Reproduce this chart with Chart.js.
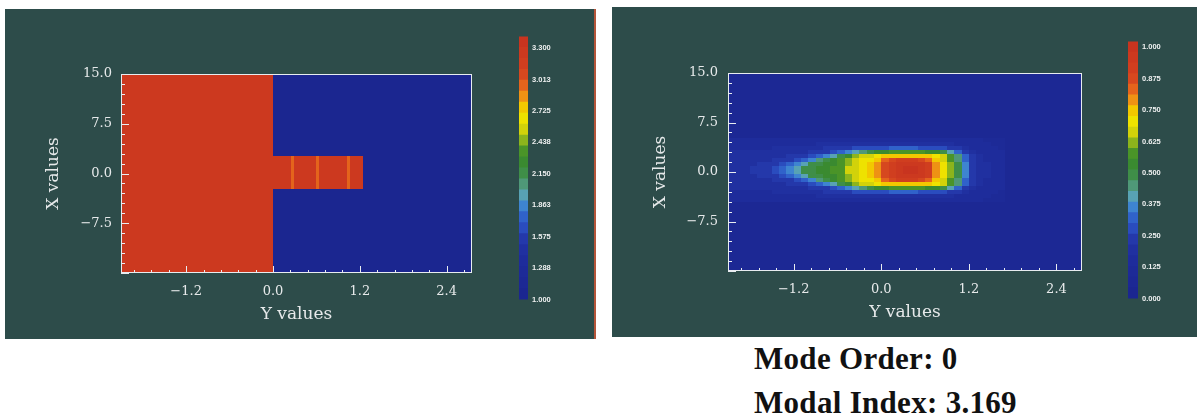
<!DOCTYPE html>
<html>
<head>
<meta charset="utf-8">
<script src="https://cdn.jsdelivr.net/npm/chart.js@4.4.1/dist/chart.umd.min.js"></script>
<style>
  html, body { margin: 0; padding: 0; background: #ffffff; }
  body { width: 1197px; height: 414px; position: relative; overflow: hidden; }
  .panel { position: absolute; background: #2d4c4a; }
  #panelIndex { left: 5px; top: 9px; width: 589px; height: 330px; border-right: 2px solid #b4553a; }
  #panelMode { left: 612px; top: 7px; width: 585px; height: 330px; }
  .panel canvas { position: absolute; }
  .caption { position: absolute; left: 754px; font: bold 31px "Liberation Serif", "Times New Roman", serif;
             line-height: 31px; color: #111; white-space: nowrap; letter-spacing: 0.3px; }
</style>
</head>
<body>
<div class="panel" id="panelIndex">
  <canvas id="indexPlot" width="589" height="330" style="left:0;top:0"></canvas>
  <canvas id="indexBar" width="45" height="280" style="left:514px;top:19px"></canvas>
</div>
<div class="panel" id="panelMode">
  <canvas id="modePlot" width="585" height="330" style="left:0;top:0"></canvas>
  <canvas id="modeBar" width="52" height="274" style="left:516px;top:26px"></canvas>
</div>
<div class="caption" style="top:343px">Mode Order: 0</div>
<div class="caption" style="top:387px">Modal Index: 3.169</div>

<script>
// ---------- axes ----------
const xRange = [-2.1, 2.75];
const yRange = [-15, 15];
const xAxisTicks = [-1.2, 0.0, 1.2, 2.4];
const yAxisTicks = [-7.5, 0.0, 7.5, 15.0];

// ---------- refractive index profile: [x0, x1, y0, y1, n] ----------
const indexBlocks = [
  [-2.1, 0.0, -15, 15, 3.3],
  [0.0, 2.75, -15, 15, 1.0],
  [0.0, 1.24, -2.4, 2.6, 3.3],
  [0.25, 0.29, -2.4, 2.6, 2.98],
  [0.60, 0.64, -2.4, 2.6, 2.98],
  [1.02, 1.06, -2.4, 2.6, 2.98]
];
const indexRange = [1.0, 3.407];
const indexTickValues = [1.0, 1.2875, 1.575, 1.8625, 2.15, 2.4375, 2.725, 3.0125, 3.3];
const indexTickLabels = ['1.000', '1.288', '1.575', '1.863', '2.150', '2.438', '2.725', '3.013', '3.300'];

// ---------- normalised mode field ----------
const modeRange = [0.0, 1.023];
const modeTickValues = [0, 0.125, 0.25, 0.375, 0.5, 0.625, 0.75, 0.875, 1.0];
const modeTickLabels = ['0.000', '0.125', '0.250', '0.375', '0.500', '0.625', '0.750', '0.875', '1.000'];
const modeBackground = 0.06;
const modeColX = [-2.05, -1.95, -1.85, -1.75, -1.65, -1.55, -1.45, -1.35, -1.25, -1.15,
                  -1.05, -0.95, -0.85, -0.75, -0.65, -0.55, -0.45, -0.35, -0.25, -0.15,
                  -0.05, 0.05, 0.15, 0.25, 0.35, 0.45, 0.55, 0.65, 0.75, 0.85,
                  0.95, 1.05, 1.15, 1.25, 1.35, 1.45, 1.55, 1.65];
const modeRowY = [4.8, 4.2, 3.6, 3.0, 2.4, 1.8, 1.2, 0.6, 0.0, -0.6, -1.2, -1.8, -2.4, -3.0, -3.6, -4.2];
const modeCellW = 0.1;
const modeCellH = 0.6;

// field rows, by distance from the guide axis
const fieldD45 = [0.14,0.14,0.14,0.14,0.14,0.14,0.14,0.15,0.15,0.15,0.15,0.15,0.16,0.16,0.16,0.16,0.16,0.17,0.17,
                  0.17,0.17,0.17,0.17,0.17,0.17,0.17,0.17,0.17,0.16,0.16,0.16,0.15,0.15,0.14,0.13,0.12,0.11,0.10];
const fieldD39 = [0.16,0.16,0.16,0.16,0.16,0.16,0.16,0.17,0.17,0.17,0.17,0.17,0.18,0.18,0.18,0.19,0.19,0.19,0.20,
                  0.20,0.21,0.21,0.21,0.21,0.21,0.21,0.21,0.20,0.20,0.19,0.18,0.17,0.16,0.15,0.14,0.13,0.12,0.11];
const fieldD33 = [0.17,0.17,0.17,0.17,0.17,0.17,0.18,0.18,0.18,0.19,0.19,0.20,0.21,0.22,0.23,0.24,0.25,0.26,0.27,
                  0.28,0.29,0.29,0.30,0.30,0.30,0.30,0.29,0.28,0.27,0.26,0.24,0.22,0.19,0.17,0.15,0.14,0.13,0.12];
const fieldD27 = [0.18,0.18,0.18,0.18,0.18,0.18,0.19,0.19,0.20,0.20,0.21,0.22,0.23,0.25,0.28,0.31,0.35,0.40,0.45,
                  0.49,0.52,0.55,0.57,0.58,0.58,0.58,0.57,0.55,0.52,0.47,0.41,0.34,0.25,0.19,0.16,0.15,0.14,0.13];
const fieldD21 = [0.19,0.19,0.19,0.19,0.19,0.20,0.20,0.21,0.22,0.23,0.25,0.28,0.31,0.35,0.41,0.47,0.54,0.60,0.65,
                  0.68,0.71,0.73,0.75,0.76,0.76,0.76,0.75,0.73,0.70,0.65,0.56,0.44,0.31,0.22,0.18,0.16,0.15,0.14];
const fieldD15 = [0.20,0.20,0.20,0.20,0.20,0.21,0.22,0.23,0.25,0.28,0.31,0.36,0.43,0.48,0.52,0.56,0.60,0.65,0.69,
                  0.72,0.76,0.82,0.87,0.90,0.92,0.92,0.89,0.84,0.76,0.68,0.58,0.46,0.33,0.23,0.19,0.17,0.15,0.14];
const fieldD09 = [0.20,0.20,0.21,0.21,0.22,0.23,0.25,0.28,0.32,0.36,0.42,0.47,0.50,0.53,0.55,0.58,0.62,0.66,0.70,
                  0.73,0.79,0.87,0.92,0.96,0.98,0.98,0.96,0.91,0.79,0.71,0.60,0.49,0.35,0.24,0.20,0.18,0.16,0.14];
const fieldD03 = [0.21,0.21,0.21,0.22,0.23,0.24,0.27,0.31,0.36,0.41,0.47,0.50,0.52,0.54,0.56,0.59,0.64,0.67,0.70,
                  0.73,0.80,0.88,0.93,0.97,0.99,1.00,0.98,0.93,0.80,0.72,0.60,0.50,0.36,0.25,0.20,0.18,0.16,0.14];
const modeField = [fieldD45, fieldD39, fieldD33, fieldD27, fieldD21, fieldD15, fieldD09, fieldD03,
                   fieldD03, fieldD09, fieldD15, fieldD21, fieldD27, fieldD33, fieldD39, fieldD45];

// ---------- colour levels (low to high) ----------
const levelColors = [
  '#1b2690', '#1c2894', '#1d2a97', '#1e2c9b', '#2030a0', '#2438aa', '#2a4cbe', '#3062ca',
  '#3e84d0', '#58a2b4', '#4f9878', '#3f8e48', '#3a8a30', '#4a9428', '#8cb41c', '#d2d20a',
  '#eee200', '#f2c800', '#ee9214', '#e4641c', '#d6481f', '#d03e1f', '#cc391f', '#c8341f'
];

function levelColor(v, range) {
  const t = (v - range[0]) / (range[1] - range[0]);
  const i = Math.max(0, Math.min(levelColors.length - 1, Math.floor(t * levelColors.length)));
  return levelColors[i];
}

// ---------- cell sets ----------
const indexCells = indexBlocks.map(b => ({
  x: (b[0] + b[1]) / 2, y: (b[2] + b[3]) / 2, w: b[1] - b[0], h: b[3] - b[2], v: b[4]
}));

const modeCells = [{
  x: (xRange[0] + xRange[1]) / 2, y: 0, w: xRange[1] - xRange[0], h: yRange[1] - yRange[0], v: modeBackground
}];
modeRowY.forEach((yc, r) => {
  modeColX.forEach((xc, c) => {
    modeCells.push({ x: xc, y: yc, w: modeCellW, h: modeCellH, v: modeField[r][c] });
  });
});

// ---------- plugins ----------
const cellPlugin = {
  id: 'cellGrid',
  beforeDatasetsDraw(chart, args, opts) {
    const { ctx, chartArea: a, scales: { x, y } } = chart;
    const range = opts.range;
    ctx.save();
    ctx.beginPath();
    ctx.rect(a.left, a.top, a.width, a.height);
    ctx.clip();
    for (const c of chart.data.datasets[0].data) {
      const px0 = Math.round(x.getPixelForValue(c.x - c.w / 2));
      const px1 = Math.round(x.getPixelForValue(c.x + c.w / 2));
      const py0 = Math.round(y.getPixelForValue(c.y + c.h / 2));
      const py1 = Math.round(y.getPixelForValue(c.y - c.h / 2));
      ctx.fillStyle = levelColor(c.v, range);
      ctx.fillRect(px0, py0, px1 - px0, py1 - py0);
    }
    ctx.restore();
  }
};

const framePlugin = {
  id: 'plotFrame',
  afterDatasetsDraw(chart) {
    const { ctx, chartArea: a, scales: { x, y } } = chart;
    ctx.save();
    ctx.strokeStyle = '#e8ecf0';
    ctx.lineWidth = 1;
    ctx.strokeRect(a.left + 0.5, a.top + 0.5, a.width - 1, a.height - 1);
    ctx.beginPath();
    for (let k = Math.ceil(x.min / 0.24); k * 0.24 <= x.max; k++) {
      const major = k % 5 === 0;
      const px = Math.round(x.getPixelForValue(k * 0.24)) + 0.5;
      ctx.moveTo(px, a.bottom);
      ctx.lineTo(px, a.bottom - (major ? 7 : 3));
    }
    for (let k = -10; k <= 10; k++) {
      const major = k % 5 === 0;
      const py = Math.round(y.getPixelForValue(k * 1.5)) + 0.5;
      ctx.moveTo(a.left, py);
      ctx.lineTo(a.left + (major ? 8 : 4), py);
    }
    ctx.stroke();
    ctx.restore();
  }
};

const labelColor = '#e6e9ea';
const serif = '"DejaVu Serif", "Liberation Serif", serif';

function fmt(v) {
  const s = Number(v).toFixed(1);
  return v < 0 ? '\u2212' + s.slice(1) : s;
}

function makePlot(id, cells, range, area, yPad) {
  const canvas = document.getElementById(id);
  const W = canvas.width, H = canvas.height;
  return new Chart(canvas, {
    type: 'scatter',
    data: { datasets: [{ data: cells, pointRadius: 0, pointHoverRadius: 0, showLine: false }] },
    options: {
      responsive: false,
      animation: false,
      events: [],
      layout: { padding: { left: 0, top: area.top, right: W - area.right, bottom: 0 } },
      plugins: { legend: { display: false }, tooltip: { enabled: false }, cellGrid: { range: range } },
      scales: {
        x: {
          type: 'linear', min: xRange[0], max: xRange[1],
          afterBuildTicks: s => { s.ticks = xAxisTicks.map(v => ({ value: v })); },
          afterFit: s => { s.height = H - area.bottom; },
          ticks: { callback: v => fmt(v), color: labelColor, font: { family: serif, size: 13 },
                   padding: 11, maxRotation: 0, autoSkip: false },
          grid: { display: false, drawTicks: false },
          border: { display: false },
          title: { display: true, text: 'Y values', color: labelColor,
                   font: { family: serif, size: 17 }, padding: { top: 0, bottom: 14 } }
        },
        y: {
          type: 'linear', min: yRange[0], max: yRange[1],
          afterBuildTicks: s => { s.ticks = yAxisTicks.map(v => ({ value: v })); },
          afterFit: s => { s.width = area.left; },
          ticks: { callback: v => fmt(v), color: labelColor, font: { family: serif, size: 13 },
                   padding: yPad, autoSkip: false },
          grid: { display: false, drawTicks: false },
          border: { display: false },
          title: { display: true, text: 'X values', color: labelColor,
                   font: { family: serif, size: 17 }, padding: { top: 38, bottom: 0 } }
        }
      }
    },
    plugins: [cellPlugin, framePlugin]
  });
}

function makeColorBar(id, range, tickValues, tickLabels, barW) {
  const canvas = document.getElementById(id);
  const W = canvas.width;
  const step = (range[1] - range[0]) / levelColors.length;
  return new Chart(canvas, {
    type: 'bar',
    data: {
      labels: [''],
      datasets: levelColors.map((c, i) => ({
        data: [[range[0] + i * step, range[0] + (i + 1) * step]],
        backgroundColor: c, borderWidth: 0, barPercentage: 1, categoryPercentage: 1,
        grouped: false, inflateAmount: 0.5
      }))
    },
    options: {
      responsive: false,
      animation: false,
      events: [],
      layout: { padding: { top: 5, bottom: 5, left: 0, right: 0 } },
      plugins: { legend: { display: false }, tooltip: { enabled: false } },
      scales: {
        x: { display: false },
        y: {
          position: 'right', min: range[0], max: range[1],
          afterBuildTicks: s => { s.ticks = tickValues.map(v => ({ value: v })); },
          afterFit: s => { s.width = W - barW; },
          ticks: { callback: (v, i) => tickLabels[i], color: '#eef0f0',
                   font: { family: '"Liberation Sans", Arial, sans-serif', size: 7.5, weight: 'bold' },
                   padding: 4, autoSkip: false },
          grid: { display: false, drawTicks: false },
          border: { display: false }
        }
      }
    }
  });
}

makePlot('indexPlot', indexCells, indexRange, { left: 116, top: 65, right: 467, bottom: 264 }, 9);
makePlot('modePlot', modeCells, modeRange, { left: 116, top: 66, right: 470, bottom: 264 }, 10);
makeColorBar('indexBar', indexRange, indexTickValues, indexTickLabels, 9);
makeColorBar('modeBar', modeRange, modeTickValues, modeTickLabels, 10);
</script>
</body>
</html>
